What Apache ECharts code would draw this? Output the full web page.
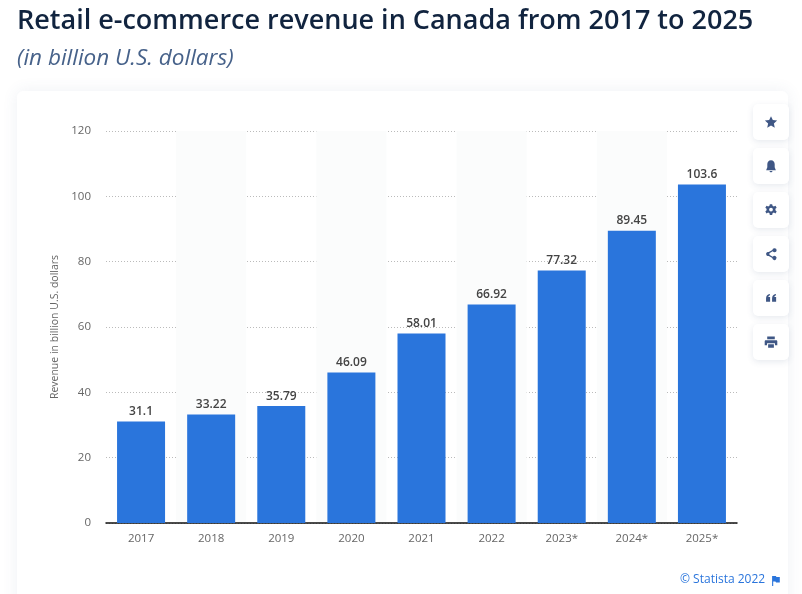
<!DOCTYPE html>
<html>
<head>
<meta charset="utf-8">
<title>Retail e-commerce revenue in Canada</title>
<style>
  html, body { margin: 0; padding: 0; background: #fff; }
  #chart { width: 802px; height: 594px; }
</style>
<script src="https://cdn.jsdelivr.net/npm/echarts@6/dist/echarts.min.js"></script>
</head>
<body>
<div id="chart"></div>
<script>
var years = ['2017', '2018', '2019', '2020', '2021', '2022', '2023*', '2024*', '2025*'];
var revenue = [31.1, 33.22, 35.79, 46.09, 58.01, 66.92, 77.32, 89.45, 103.6];
var valueLabels = ['31.1', '33.22', '35.79', '46.09', '58.01', '66.92', '77.32', '89.45', '103.6'];

var titleText = 'Retail e-commerce revenue in Canada from 2017 to 2025';
var subtitleText = '(in billion U.S. dollars)';
var axisTitle = 'Revenue in billion U.S. dollars';
var sourceText = '\u00a9 Statista 2022';

var FONT = '"Open Sans", sans-serif';

// toolbar icons, drawn on a 16x16 box
var icons = [
  'M8 1.5L10 5.9L14.8 6.4L11.2 9.6L12.2 14.3L8 11.9L3.8 14.3L4.8 9.6L1.2 6.4L6 5.9Z',
  'M8 1.5C5.4 1.5 3.9 3.6 3.9 6V9.5L2.6 12.6H13.4L12.1 9.5V6C12.1 3.6 10.6 1.5 8 1.5ZM6.4 13.6H9.6C9.6 14.5 8.9 15 8 15C7.1 15 6.4 14.5 6.4 13.6Z',
  'M6.7 1.5H9.3L9.7 3.4L11.2 4.1L13 3.2L14.3 5.4L12.9 6.7V8.3L14.3 9.6L13 11.8L11.2 10.9L9.7 11.6L9.3 13.5H6.7L6.3 11.6L4.8 10.9L3 11.8L1.7 9.6L3.1 8.3V6.7L1.7 5.4L3 3.2L4.8 4.1L6.3 3.4ZM8 5.4A2.1 2.1 0 1 0 8 9.6A2.1 2.1 0 1 0 8 5.4Z',
  'M12 1.5A2.3 2.3 0 1 1 10 5L6.2 7.1A2.3 2.3 0 0 1 6.2 8.9L10 11A2.3 2.3 0 1 1 9.5 12.4L5.5 10.2A2.3 2.3 0 1 1 5.5 5.8L9.5 3.6A2.3 2.3 0 0 1 12 1.5Z',
  'M2.5 8.5C2.5 5.8 3.8 4.2 6.6 3.6L7 4.9C5.7 5.3 5.1 6 5 7H7V12.2H2.5ZM9.2 8.5C9.2 5.8 10.5 4.2 13.3 3.6L13.7 4.9C12.4 5.3 11.8 6 11.7 7H13.7V12.2H9.2Z',
  'M3.8 1.8H12.2V5H3.8ZM2.2 6H13.8C14.5 6 15 6.5 15 7.2V11.5H12.4V9.4H3.6V11.5H1V7.2C1 6.5 1.5 6 2.2 6ZM4.8 10.6H11.2V14.4H4.8Z'
];
var iconTops = [104, 148, 192, 236, 280, 324];
var flagIcon = 'M1 0V9H2V5H4L4.6 5.8H8V1H5L4.4 0Z';

// the graphic component only knows registered shapes
icons.forEach(function (d, i) {
  echarts.graphic.registerShape('toolIcon' + i, echarts.graphic.extendPath(d, {}));
});
echarts.graphic.registerShape('flagIcon', echarts.graphic.extendPath(flagIcon, {}));

var graphics = [
  // white card behind the chart
  {
    type: 'rect', z: -10, silent: true,
    shape: { x: 17, y: 91, width: 771, height: 520, r: 6 },
    style: { fill: '#fff', shadowBlur: 16, shadowColor: 'rgba(70,90,130,0.09)' }
  },
  {
    type: 'text', x: 680, y: 574, silent: true,
    style: { text: sourceText, font: '12px ' + FONT, fill: '#2a75dc' }
  },
  {
    type: 'flagIcon', x: 771, y: 576, scaleX: 1.1, scaleY: 1.1, silent: true,
    style: { fill: '#2a75dc' }
  }
];

iconTops.forEach(function (top, i) {
  graphics.push({
    type: 'rect', silent: true, z: 5,
    shape: { x: 753, y: top, width: 36, height: 36, r: 5 },
    style: { fill: '#fff', shadowBlur: 6, shadowOffsetY: 2, shadowColor: 'rgba(70,90,130,0.13)' }
  });
  graphics.push({
    type: 'toolIcon' + i, silent: true, z: 6,
    x: 763.8, y: top + 10.8, scaleX: 0.9, scaleY: 0.9,
    style: { fill: '#3f5785' }
  });
});

var chart = echarts.init(document.getElementById('chart'), null, { renderer: 'canvas' });
chart.setOption({
  animation: false,
  backgroundColor: '#fff',
  textStyle: { fontFamily: FONT },
  title: [
    {
      text: titleText, left: 12, top: -3,
      textStyle: { fontFamily: FONT, fontSize: 27, fontWeight: 600, color: '#11243f', lineHeight: 38 }
    },
    {
      text: subtitleText, left: 12, top: 39,
      textStyle: { fontFamily: FONT, fontSize: 22.5, fontWeight: 400, fontStyle: 'italic', color: '#47628a', lineHeight: 30 }
    }
  ],
  grid: { left: 106, top: 131, width: 631, height: 392, containLabel: false },
  xAxis: {
    type: 'category',
    data: years,
    axisTick: { show: false },
    axisLine: { lineStyle: { color: '#111', width: 1.5 } },
    axisLabel: { color: '#666', fontSize: 11.5, margin: 10, fontFamily: FONT },
    splitArea: { show: true, areaStyle: { color: ['rgba(255,255,255,0)', '#fbfcfc'] } }
  },
  yAxis: {
    type: 'value',
    min: 0,
    max: 120,
    interval: 20,
    name: axisTitle,
    nameLocation: 'middle',
    nameGap: 43,
    nameTextStyle: { color: '#666', fontSize: 10.5, fontFamily: FONT },
    axisLine: { show: false },
    axisTick: { show: false },
    axisLabel: { color: '#666', fontSize: 11.5, margin: 15, padding: [2, 0, 0, 0], fontFamily: FONT },
    splitLine: { lineStyle: { color: '#bbb', type: [1, 2], width: 1 } }
  },
  series: [{
    type: 'bar',
    data: revenue,
    barWidth: 48,
    itemStyle: { color: '#2a75dc' },
    label: {
      show: true,
      position: 'top',
      distance: 4,
      color: '#444',
      fontSize: 12,
      fontWeight: 600,
      fontFamily: FONT,
      formatter: function (p) { return valueLabels[p.dataIndex]; }
    }
  }],
  graphic: graphics
});
</script>
</body>
</html>
